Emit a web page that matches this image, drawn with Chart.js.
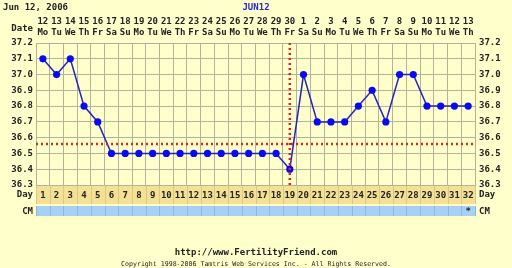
<!DOCTYPE html>
<html><head><meta charset="utf-8">
<script src="https://cdn.jsdelivr.net/npm/chart.js@4/dist/chart.umd.min.js"></script>
<style>html,body{margin:0;padding:0;background:#ffffcc;}canvas{display:block}</style>
</head><body>
<canvas id="c" width="512" height="268"></canvas>
<script>
// ---- data ----
const dates = ['12','13','14','15','16','17','18','19','20','21','22','23','24','25','26','27','28','29','30','1','2','3','4','5','6','7','8','9','10','11','12','13'];
const weekdays = ['Mo','Tu','We','Th','Fr','Sa','Su','Mo','Tu','We','Th','Fr','Sa','Su','Mo','Tu','We','Th','Fr','Sa','Su','Mo','Tu','We','Th','Fr','Sa','Su','Mo','Tu','We','Th'];
const cycleDays = ['1','2','3','4','5','6','7','8','9','10','11','12','13','14','15','16','17','18','19','20','21','22','23','24','25','26','27','28','29','30','31','32'];
const temps = [37.1,37.0,37.1,36.8,36.7,36.5,36.5,36.5,36.5,36.5,36.5,36.5,36.5,36.5,36.5,36.5,36.5,36.5,36.4,37.0,36.7,36.7,36.7,36.8,36.9,36.7,37.0,37.0,36.8,36.8,36.8,36.8];
const cmMarks = ['','','','','','','','','','','','','','','','','','','','','','','','','','','','','','','','*'];
const yTicks = [36.3,36.4,36.5,36.6,36.7,36.8,36.9,37.0,37.1,37.2];
const coverline = 36.56;
const ovulationDay = '19';
const headerDate = 'Jun 12, 2006';
const headerTitle = 'JUN12';
const footerUrl = 'http://www.FertilityFriend.com';
const footerCopy = 'Copyright 1998-2006 Tamtris Web Services Inc. - All Rights Reserved.';

const FONT = '"DejaVu Sans Mono", "Liberation Mono", monospace';
const GRID = '#b3b39b';
const TXT = '#222222';

const topLabels = dates.map((d,i)=>[d, weekdays[i]]);

const decor = {
  id: 'decor',
  beforeDraw(chart) {
    const ctx = chart.ctx;
    ctx.save();
    ctx.fillStyle = '#ffffcc';
    ctx.fillRect(0,0,chart.width,chart.height);
    const ca = chart.chartArea;
    const xd = chart.scales.xDay, xc = chart.scales.xCM;
    ctx.fillStyle = '#f4e193';
    ctx.fillRect(ca.left, xd.top, ca.right-ca.left, xd.bottom-xd.top-1);
    ctx.fillStyle = '#a6d0f4';
    ctx.fillRect(ca.left, xc.top+1, ca.right-ca.left, xc.bottom-xc.top-1);
    // cell separators
    const x = chart.scales.x;
    const half = (x.getPixelForValue(1)-x.getPixelForValue(0))/2;
    ctx.strokeStyle = '#d8c98a';
    ctx.lineWidth = 1;
    for (let i=0;i<=cycleDays.length;i++){
      const px = Math.round(x.getPixelForValue(Math.min(i,cycleDays.length-1)) + (i===cycleDays.length?half:-half)) + 0.5;
      ctx.beginPath(); ctx.moveTo(px, xd.top); ctx.lineTo(px, xd.bottom-1); ctx.stroke();
    }
    ctx.strokeStyle = '#8fb8dc';
    for (let i=0;i<=cycleDays.length;i++){
      const px = Math.round(x.getPixelForValue(Math.min(i,cycleDays.length-1)) + (i===cycleDays.length?half:-half)) + 0.5;
      ctx.beginPath(); ctx.moveTo(px, xc.top+1); ctx.lineTo(px, xc.bottom); ctx.stroke();
    }
    ctx.restore();
  },
  afterDatasetsDraw(chart) {
    const ctx = chart.ctx, ca = chart.chartArea;
    const y = chart.scales.y, x = chart.scales.x;
    ctx.save();
    ctx.strokeStyle = '#dd2222';
    ctx.lineWidth = 2.5;
    ctx.setLineDash([2,3]);
    const cy = y.getPixelForValue(coverline);
    ctx.beginPath(); ctx.moveTo(ca.left, cy); ctx.lineTo(ca.right, cy); ctx.stroke();
    const ox = x.getPixelForValue(cycleDays.indexOf(ovulationDay));
    ctx.beginPath(); ctx.moveTo(ox, ca.top); ctx.lineTo(ox, ca.bottom+2); ctx.stroke();
    ctx.restore();
  },
  afterDraw(chart) {
    const ctx = chart.ctx, ca = chart.chartArea;
    const xd = chart.scales.xDay, xc = chart.scales.xCM;
    ctx.save();
    ctx.font = 'bold 9px ' + FONT;
    ctx.fillStyle = TXT;
    ctx.textBaseline = 'middle';
    ctx.textAlign = 'left';
    ctx.fillText(headerDate, 3, 8);
    ctx.fillStyle = '#2a2ac8';
    ctx.textAlign = 'center';
    ctx.fillText(headerTitle, 256, 8);
    ctx.fillStyle = TXT;
    ctx.textAlign = 'right';
    ctx.fillText('Date', 33, 29);
    ctx.fillText('Day', 33, (xd.top+xd.bottom)/2);
    ctx.fillText('CM', 33, (xc.top+xc.bottom)/2+1);
    ctx.textAlign = 'left';
    ctx.fillText('Day', ca.right+4, (xd.top+xd.bottom)/2);
    ctx.fillText('CM', ca.right+4, (xc.top+xc.bottom)/2+1);
    ctx.textAlign = 'center';
    ctx.fillText(footerUrl, 256, 253);
    ctx.font = '6.6px ' + FONT;
    ctx.fillText(footerCopy, 256, 264);
    ctx.restore();
  }
};

const tickFont = {family: FONT, size: 9, weight: 'bold'};

new Chart(document.getElementById('c'), {
  type: 'line',
  data: {
    labels: cycleDays,
    datasets: [{
      data: temps,
      borderColor: '#2222cc',
      borderWidth: 1.5,
      backgroundColor: '#0a0aee',
      pointBackgroundColor: '#0a0aee',
      pointBorderWidth: 0,
      pointRadius: 3.6,
      tension: 0,
      xAxisID: 'x',
      yAxisID: 'y'
    }]
  },
  options: {
    responsive: false,
    animation: false,
    events: [],
    layout: {padding: {top: 14, bottom: 52, left: 0, right: 0}},
    plugins: {legend: {display: false}, tooltip: {enabled: false}},
    scales: {
      x: {
        type: 'category',
        position: 'top',
        labels: cycleDays,
        offset: true,
        grid: {offset: true, color: GRID, drawTicks: false, lineWidth: 1},
        border: {color: GRID},
        ticks: {
          font: tickFont, color: TXT, padding: 5, autoSkip: false, maxRotation: 0,
          callback: (v, i) => topLabels[i]
        },
        afterFit: s => { s.height = 29; }
      },
      xDay: {
        type: 'category',
        position: 'bottom',
        weight: 1,
        labels: cycleDays,
        offset: true,
        grid: {display: false, drawTicks: false},
        border: {display: false},
        ticks: {font: tickFont, color: TXT, padding: 5, autoSkip: false, maxRotation: 0},
        afterFit: s => { s.height = 20; }
      },
      xCM: {
        type: 'category',
        position: 'bottom',
        weight: 2,
        labels: cycleDays,
        offset: true,
        grid: {display: false, drawTicks: false},
        border: {display: false},
        ticks: {font: tickFont, color: TXT, padding: 1, autoSkip: false, maxRotation: 0,
          callback: (v, i) => cmMarks[i]},
        afterFit: s => { s.height = 11; }
      },
      y: {
        type: 'linear',
        position: 'left',
        min: 36.3, max: 37.2,
        grid: {color: GRID, drawTicks: false, lineWidth: 1},
        border: {color: GRID},
        afterBuildTicks: s => { s.ticks = yTicks.map(v => ({value: v})); },
        ticks: {font: tickFont, color: TXT, padding: 3, callback: v => Number(v).toFixed(1)},
        afterFit: s => { s.width = 36; }
      },
      y2: {
        type: 'linear',
        position: 'right',
        min: 36.3, max: 37.2,
        grid: {display: false, drawTicks: false},
        border: {color: GRID},
        afterBuildTicks: s => { s.ticks = yTicks.map(v => ({value: v})); },
        ticks: {font: tickFont, color: TXT, padding: 4, callback: v => Number(v).toFixed(1)},
        afterFit: s => { s.width = 37; }
      }
    }
  },
  plugins: [decor]
});
</script>
</body></html>
